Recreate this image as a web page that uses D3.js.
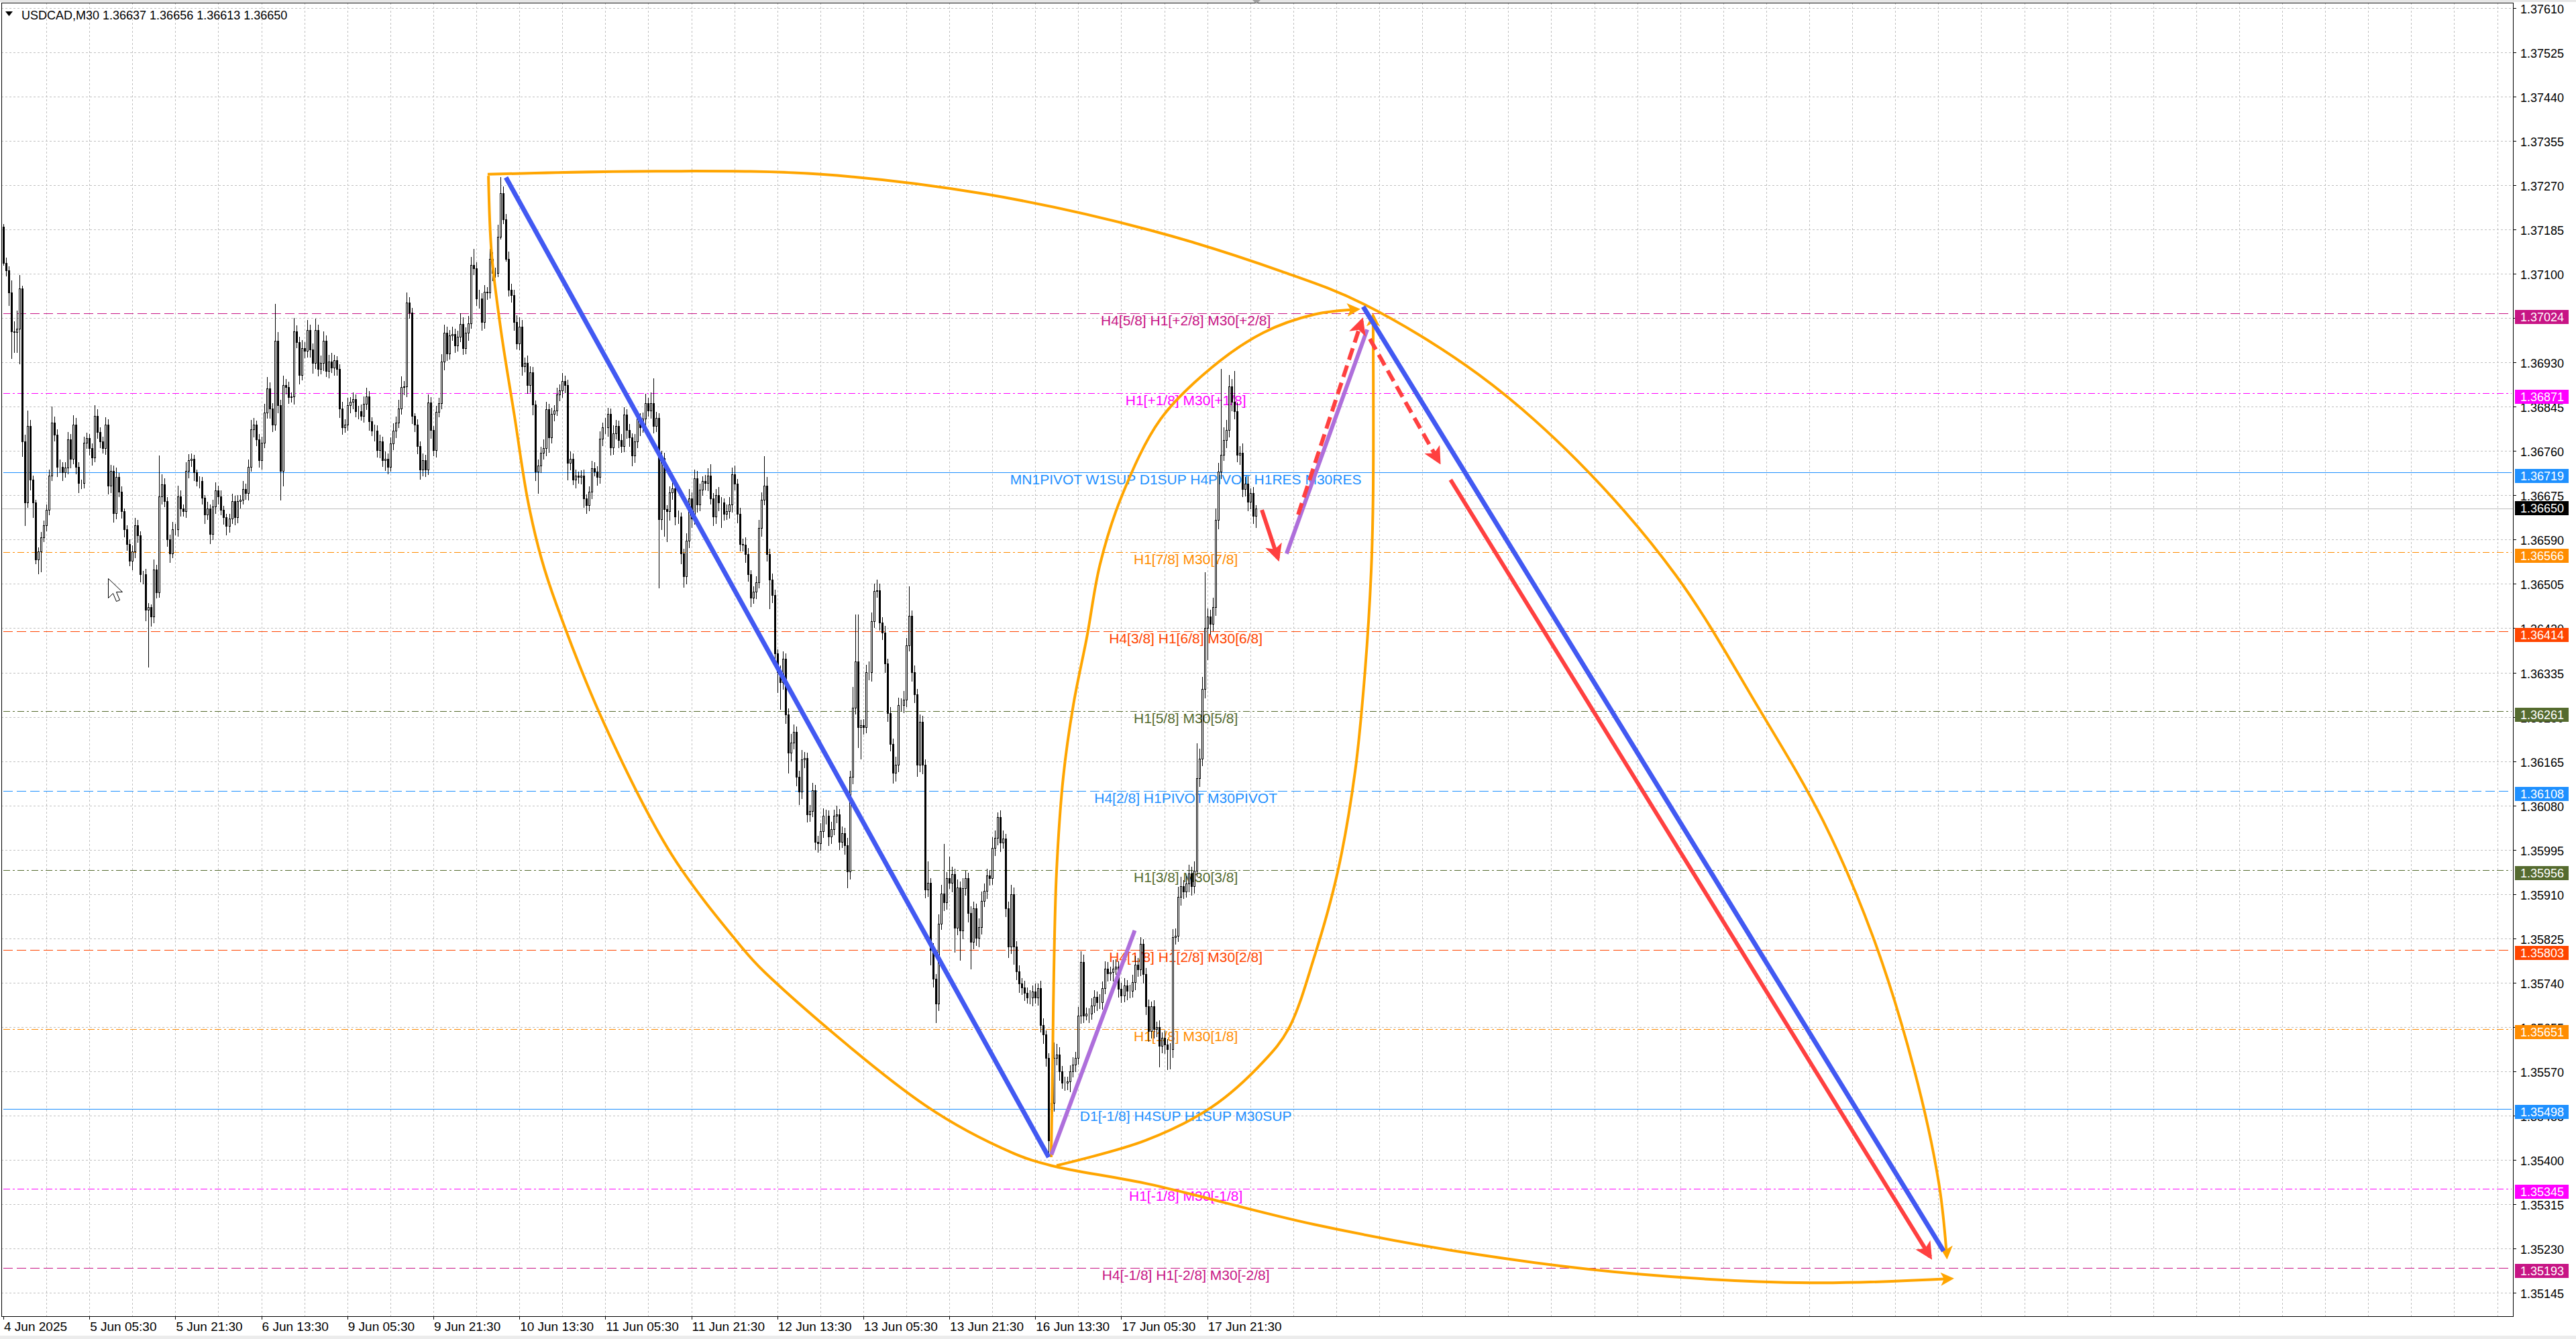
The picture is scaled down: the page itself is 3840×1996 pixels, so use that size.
<!DOCTYPE html>
<html>
<head>
<meta charset="utf-8">
<script src="https://cdnjs.cloudflare.com/ajax/libs/d3/7.8.5/d3.min.js"></script>
<style>
  body { margin: 0; background: #fff; }
  svg { display: block; font-family: "Liberation Sans", Arial, sans-serif; }
</style>
</head>
<body>
<svg id="chart"></svg>
<script>
// ---- data (prices in points above 1.35000) ----
const symbolTitle = "USDCAD,M30  1.36637 1.36656 1.36613 1.36650";
const firstOpen = 2190;
const closes = [
  2121,2107,2064,1989,1988,1995,2072,1779,1661,1808,
  1705,1661,1552,1567,1595,1618,1647,1713,1814,1791,
  1730,1730,1719,1728,1782,1745,1811,1730,1699,1699,
  1776,1785,1765,1748,1828,1796,1779,1765,1811,1693,
  1722,1641,1710,1682,1644,1610,1581,1549,1567,1618,
  1598,1524,1524,1455,1460,1443,1532,1489,1673,1696,
  1664,1590,1564,1610,1610,1673,1650,1644,1722,1742,
  1745,1719,1702,1702,1670,1638,1650,1601,1653,1684,
  1673,1647,1633,1616,1630,1664,1633,1664,1667,1687,
  1679,1730,1802,1811,1782,1742,1776,1834,1880,1842,
  1811,1972,1848,1722,1886,1883,1863,1865,1989,1969,
  1906,1957,1952,1992,1955,1929,1992,1917,1929,1972,
  1914,1932,1920,1934,1917,1842,1805,1811,1848,1854,
  1860,1837,1837,1828,1851,1865,1817,1799,1799,1762,
  1779,1742,1745,1730,1774,1799,1814,1842,1883,1884,
  2045,2026,1827,1811,1770,1724,1743,1724,1853,1800,
  1762,1835,1852,1931,1987,1947,1982,1985,1963,1979,
  2004,1958,1987,2005,2117,2110,2053,2053,2007,2065,
  2064,2128,2102,2102,2171,2255,2205,2129,2069,2059,
  2007,1967,1999,1923,1929,1886,1911,1849,1721,1732,
  1756,1766,1840,1786,1831,1838,1868,1876,1894,1887,
  1737,1745,1705,1713,1710,1713,1669,1656,1682,1727,
  1721,1710,1784,1805,1805,1831,1767,1794,1808,1781,
  1770,1830,1800,1786,1751,1778,1822,1805,1822,1852,
  1838,1852,1808,1823,1629,1746,1648,1645,1680,1688,
  1634,1634,1563,1520,1588,1669,1631,1708,1658,1686,
  1702,1699,1713,1669,1634,1675,1661,1661,1640,1645,
  1658,1716,1697,1639,1582,1580,1562,1523,1479,1490,
  1508,1612,1666,1694,1562,1513,1484,1372,1336,1316,
  1362,1254,1181,1201,1221,1135,1106,1168,1171,1063,
  1069,1109,1010,1007,1030,1060,1060,1020,1035,1060,
  1063,1010,1027,1004,954,1135,1267,1356,1230,1234,
  1230,1336,1336,1434,1491,1493,1431,1411,1352,1257,
  1198,1142,1158,1273,1273,1283,1387,1444,1336,1293,
  1158,1240,1158,918,931,803,747,700,853,911,
  894,940,932,948,845,922,840,921,941,874,
  818,882,826,847,897,916,946,940,999,1018,
  1058,1009,1016,882,809,910,809,761,739,731,
  721,712,712,723,712,729,659,640,595,437,
  509,595,602,570,548,548,550,570,583,595,
  677,780,677,680,681,696,713,702,702,730,
  767,758,760,767,771,728,715,735,724,724,
  741,775,765,814,756,694,647,694,651,655,
  619,634,621,612,612,827,830,904,925,915,
  930,950,925,955,1132,1169,1303,1420,1442,1428,
  1460,1628,1721,1753,1781,1800,1884,1854,1837,1753,
  1756,1687,1698,1663,1679,1636,1650
];
const wickHi = [
  5,10,8,23,20,35,26,5,12,30, 12,8,6,8,10,8,10,12,32,12,
  10,14,8,10,15,10,18,12,8,6, 12,10,8,10,20,12,10,8,14,10,
  12,10,18,8,10,6,8,10,12,14, 10,8,6,10,8,6,20,10,78,20,
  12,8,10,14,10,20,12,8,16,12, 10,8,6,10,8,6,12,8,14,16,
  10,12,8,6,10,14,10,12,8,16, 10,14,18,12,8,10,12,16,22,12,
  10,70,16,10,18,12,10,8,26,12, 10,16,12,20,10,12,22,10,14,18,
  10,12,16,10,8,10,12,10,14,10, 12,8,10,12,14,16,10,8,12,10,
  12,8,14,10,12,14,12,16,20,10, 19,10,8,6,10,8,12,10,15,10,
  8,12,10,15,15,12,10,14,10,12, 20,12,10,14,15,31,12,16,10,14,
  10,20,14,10,23,30,12,10,14,12, 10,14,18,12,10,14,12,10,8,12,
  12,16,14,10,12,10,14,12,16,10, 10,14,10,12,8,10,12,8,10,14,
  12,10,14,10,18,12,10,16,12,10, 12,14,10,12,8,14,16,10,12,18,
  10,20,48,12,10,14,10,8,12,16, 10,12,8,10,14,18,12,16,14,12,
  10,12,14,22,10,12,16,10,8,12, 14,12,16,10,12,10,14,12,8,10,
  12,16,14,56,16,10,12,10,8,12, 14,10,12,16,14,10,12,18,12,10,
  12,14,10,12,16,14,12,10,14,12, 16,10,12,10,14,12,40,90,90,10,
  12,14,20,16,14,20,12,10,14,10, 12,10,16,14,12,16,14,56,10,12,
  10,14,12,10,42,10,12,10,18,16, 95,12,42,14,10,16,12,20,14,10,
  12,14,10,16,18,14,12,10,20,14, 9,12,16,10,14,18,12,10,12,10,
  12,10,14,12,16,10,14,12,8,10, 40,30,20,14,10,12,10,12,14,12,
  16,20,14,12,10,14,12,10,16,12, 14,12,10,16,14,10,12,14,10,12,
  14,16,12,13,10,12,14,10,12,10, 12,10,14,10,12,16,14,20,18,12,
  14,16,12,18,67,20,24,107,16,14, 18,22,16,165,24,20,22,14,60,16,
  14,18,12,14,10,12,6
];
const wickLo = [
  5,12,26,52,39,40,69,30,45,10, 20,29,9,28,40,10,12,10,10,12,
  20,12,16,10,12,18,10,14,20,12, 10,12,14,16,10,12,14,10,12,16,
  14,18,12,10,14,16,12,10,18,12, 14,16,20,22,110,20,14,12,10,16,
  12,14,18,10,12,14,16,10,12,14, 12,16,10,14,12,18,10,20,12,14,
  16,10,14,18,12,10,16,12,14,10, 12,14,10,16,12,14,18,10,12,20,
  14,12,16,57,30,14,12,10,16,12, 18,10,14,12,16,20,12,14,10,16,
  12,14,10,16,12,18,14,10,12,16, 14,12,16,10,14,12,18,10,20,14,
  16,12,20,14,10,12,14,10,12,16, 20,12,15,14,16,19,12,14,10,16,
  12,14,10,12,16,14,12,10,14,12, 10,14,12,16,10,12,14,20,16,12,
  14,12,16,10,8,5,10,5,12,14, 16,12,14,18,12,16,14,20,19,43,
  14,12,16,30,12,14,10,12,14,16, 33,14,10,16,12,14,18,16,12,14,
  10,16,12,14,12,18,16,14,12,16, 14,12,16,18,20,14,12,16,10,14,
  12,16,14,12,133,20,52,60,18,14, 16,14,20,22,16,14,18,12,16,14,
  12,14,16,12,18,14,16,49,14,12, 14,16,12,18,14,12,16,14,18,12,
  14,12,16,10,14,56,16,18,40,53, 14,18,40,16,14,18,25,14,16,16,
  14,12,16,18,14,12,16,18,14,12, 14,16,12,18,33,16,14,12,40,62,
  14,12,16,18,14,12,16,14,18,16, 14,20,16,14,12,16,14,12,18,16,
  23,14,18,16,14,30,16,37,14,12, 16,14,12,18,47,14,58,16,14,18,
  52,14,16,18,14,12,16,14,12,16, 14,18,12,16,22,14,34,16,18,14,
  16,12,14,18,12,16,14,18,16,32, 30,16,14,18,12,16,14,20,12,14,
  12,16,14,10,18,12,14,16,12,14, 12,16,14,18,12,16,14,12,18,14,
  12,16,14,12,18,16,20,14,18,16, 41,14,18,40,39,16,14,12,16,14,
  12,16,18,14,12,16,14,18,61,20, 14,16,18,14,12,16,14,18,16,14,
  20,16,14,18,14,16,23
];
const bidPrice = 1.36650;

const priceTicks = ["1.37610","1.37525","1.37440","1.37355","1.37270","1.37185","1.37100","1.37015",
  "1.36930","1.36845","1.36760","1.36675","1.36590","1.36505","1.36420","1.36335","1.36250",
  "1.36165","1.36080","1.35995","1.35910","1.35825","1.35740","1.35655","1.35570","1.35485",
  "1.35400","1.35315","1.35230","1.35145"];

const timeLabels = ["4 Jun 2025","5 Jun 05:30","5 Jun 21:30","6 Jun 13:30","9 Jun 05:30","9 Jun 21:30",
  "10 Jun 13:30","11 Jun 05:30","11 Jun 21:30","12 Jun 13:30","13 Jun 05:30","13 Jun 21:30",
  "16 Jun 13:30","17 Jun 05:30","17 Jun 21:30"];

const levelPrices = [1.37024,1.36871,1.36719,1.36566,1.36414,1.36261,1.36108,1.35956,1.35803,1.35651,1.35498,1.35345,1.35193];
const levelNames = [
  "H4[5/8] H1[+2/8] M30[+2/8]",
  "H1[+1/8] M30[+1/8]",
  "MN1PIVOT W1SUP D1SUP H4PIVOT H1RES M30RES",
  "H1[7/8] M30[7/8]",
  "H4[3/8] H1[6/8] M30[6/8]",
  "H1[5/8] M30[5/8]",
  "H4[2/8] H1PIVOT M30PIVOT",
  "H1[3/8] M30[3/8]",
  "H4[1/8] H1[2/8] M30[2/8]",
  "H1[1/8] M30[1/8]",
  "D1[-1/8] H4SUP H1SUP M30SUP",
  "H1[-1/8] M30[-1/8]",
  "H4[-1/8] H1[-2/8] M30[-2/8]"
];
const levelKinds = ["outer","extra","pivot","eighth","quarter","mid","pivotMid","mid","quarter","eighth","pivot","extra","outer"];

// hand drawn objects: [bar index, price]
const blueLines = [[[187,1.37285],[389,1.35405]], [[506,1.37037],[722,1.35225]]];
const purpleLines = [[[390,1.35410],[421,1.35840]], [[477.5,1.36563],[507.5,1.36993]]];
const redArrow = [[538.5,1.36705],[717,1.35214]];
const redShortArrow = [[468.3,1.36647],[474.3,1.36554]];
const redDashUp = [[481.8,1.36638],[505.5,1.37010]];
const redDashDown = [[508.5,1.36975],[534.2,1.36740]];
const arcOuterTop = [[180.2,1.37291],[243.4,1.37297],[304.3,1.37291],[365.5,1.37253],[426.6,1.37184],
  [475.5,1.37105],[506.2,1.37042],[548.9,1.36907],[585.6,1.36742],[622.3,1.36522],[652.8,1.36270],
  [677.2,1.36050],[695.7,1.35828],[710.9,1.35576],[720.2,1.35356],[723.2,1.35214]];
const arcOuterBottom = [[180.5,1.37288],[181.7,1.37138],[185.2,1.36990],[190.2,1.36827],[195.2,1.36664],
  [200.2,1.36554],[205.9,1.36464],[223.4,1.36239],[248.4,1.35988],[273.3,1.35817],[283.3,1.35760],
  [343.2,1.35504],[375.7,1.35413],[389.9,1.35389],[426.6,1.35353],[487.8,1.35276],[549,1.35218],
  [610.1,1.35180],[672.7,1.35164],[724.9,1.35172]];
const arcInnerLeft = [[389.9,1.35405],[390.4,1.35566],[390.9,1.35759],[391.9,1.35952],[394.4,1.36134],
  [398.2,1.36274],[403.2,1.36403],[408.1,1.36543],[416.2,1.36674],[430.6,1.36821],[449.6,1.36920],
  [468.8,1.36987],[487.8,1.37022],[504,1.37032]];
const arcInnerRight = [[391.9,1.35389],[424.9,1.35437],[449.6,1.35501],[468.8,1.35588],[478.3,1.35652],
  [487.8,1.35789],[496.5,1.35952],[503,1.36145],[506.7,1.36338],[509,1.36531],[509.7,1.36674],[509.7,1.37020]];

// ---- layout ----
const width = 3840, height = 1996;
const plotL = 2, plotT = 4, plotR = 3746, plotB = 1962;
const labelBar = 440;
const font = "'Liberation Sans', Arial, sans-serif";

const kindStyle = {
  outer:    {color: "#C71585", dash: "14,6",       w: 1},
  extra:    {color: "#FF00FF", dash: "10,4,3,4",   w: 1},
  pivot:    {color: "#1E90FF", dash: null,         w: 1.5},
  pivotMid: {color: "#1E90FF", dash: "14,6",       w: 1},
  eighth:   {color: "#FF8C00", dash: "10,4,3,4",   w: 1},
  quarter:  {color: "#FF4500", dash: "14,6",       w: 1},
  mid:      {color: "#556B2F", dash: "10,4,3,4",   w: 1}
};

const svg = d3.select("#chart").attr("width", width).attr("height", height);

const x = d3.scaleLinear().domain([0, 934]).range([5, 3746.6]);
const y = d3.scaleLinear().domain([1.35145, 1.37610]).range([1927, 12]);
const P = v => 1.35 + v / 100000;

// background bands
svg.append("rect").attr("width", width).attr("height", height).attr("fill", "#fff");
svg.append("rect").attr("x", 0).attr("y", 0).attr("width", width).attr("height", 3).attr("fill", "#e6e6e6");
svg.append("rect").attr("x", 0).attr("y", 1991).attr("width", width).attr("height", 5).attr("fill", "#ececec");

const defs = svg.append("defs");
function arrowMarker(id, color, size) {
  defs.append("marker")
    .attr("id", id)
    .attr("viewBox", "0 0 10 10")
    .attr("refX", 8).attr("refY", 5)
    .attr("markerWidth", size).attr("markerHeight", size)
    .attr("markerUnits", "userSpaceOnUse")
    .attr("orient", "auto")
    .append("path").attr("d", "M0,0L10,5L0,10L2.5,5z").attr("fill", color);
}
arrowMarker("arRed", "#FF4040", 26);
arrowMarker("arOrange", "#FFA500", 20);

// grid
const grid = svg.append("g").attr("shape-rendering", "crispEdges");
grid.selectAll("line.h").data(priceTicks).enter().append("line")
  .attr("x1", plotL).attr("x2", plotR)
  .attr("y1", d => Math.round(y(+d)) + 0.5).attr("y2", d => Math.round(y(+d)) + 0.5)
  .attr("stroke", "#c0c0c0").attr("stroke-dasharray", "3,3");
grid.selectAll("line.v").data(d3.range(16, 934, 16)).enter().append("line")
  .attr("x1", d => Math.round(x(d)) + 0.5).attr("x2", d => Math.round(x(d)) + 0.5)
  .attr("y1", plotT).attr("y2", plotB)
  .attr("stroke", "#c0c0c0").attr("stroke-dasharray", "3,3");

// level lines
const levels = levelPrices.map((p, i) => ({p, name: levelNames[i], st: kindStyle[levelKinds[i]]}));
const lv = svg.append("g").attr("shape-rendering", "crispEdges");
lv.selectAll("line").data(levels).enter().append("line")
  .attr("x1", 5).attr("x2", plotR - 2)
  .attr("y1", d => Math.round(y(d.p)) + 0.5).attr("y2", d => Math.round(y(d.p)) + 0.5)
  .attr("stroke", d => d.st.color).attr("stroke-width", d => d.st.w)
  .attr("stroke-dasharray", d => d.st.dash);
svg.append("line").attr("shape-rendering", "crispEdges")
  .attr("x1", plotL).attr("x2", plotR)
  .attr("y1", Math.round(y(bidPrice)) + 0.5).attr("y2", Math.round(y(bidPrice)) + 0.5)
  .attr("stroke", "#c0c0c0");

// level labels
svg.append("g").selectAll("text").data(levels).enter().append("text")
  .attr("x", x(labelBar)).attr("y", d => y(d.p) + 18)
  .attr("text-anchor", "middle")
  .attr("font-size", 21).attr("font-family", font)
  .attr("fill", d => d.st.color)
  .text(d => d.name);

// candles
const bars = closes.map((c, i) => {
  const o = i ? closes[i - 1] : firstOpen;
  return {i, o: P(o), c: P(c), h: P(Math.max(o, c) + wickHi[i]), l: P(Math.min(o, c) - wickLo[i])};
});
const cg = svg.append("g").attr("shape-rendering", "crispEdges");
cg.selectAll("line").data(bars).enter().append("line")
  .attr("x1", d => Math.round(x(d.i)) + 0.5).attr("x2", d => Math.round(x(d.i)) + 0.5)
  .attr("y1", d => Math.round(y(d.h))).attr("y2", d => Math.round(y(d.l)))
  .attr("stroke", "#000");
cg.selectAll("rect").data(bars).enter().append("rect")
  .attr("x", d => Math.round(x(d.i)) - 0.5)
  .attr("y", d => Math.round(y(Math.max(d.o, d.c))) + 0.5)
  .attr("width", 2)
  .attr("height", d => Math.max(0, Math.round(y(Math.min(d.o, d.c))) - Math.round(y(Math.max(d.o, d.c)))))
  .attr("fill", d => d.c >= d.o ? "#fff" : "#000")
  .attr("stroke", "#000");

// drawings
const line = d3.line().x(d => x(d[0])).y(d => y(d[1]));
const curve = d3.line().x(d => x(d[0])).y(d => y(d[1])).curve(d3.curveCatmullRom.alpha(0.5));
const dg = svg.append("g").attr("fill", "none").attr("stroke-linecap", "butt");

[arcOuterTop, arcOuterBottom, arcInnerLeft, arcInnerRight].forEach(a => {
  dg.append("path").attr("d", curve(a)).attr("stroke", "#FFA500").attr("stroke-width", 4)
    .attr("marker-end", "url(#arOrange)");
});
blueLines.forEach(l => dg.append("path").attr("d", line(l)).attr("stroke", "#4259F2").attr("stroke-width", 7));
purpleLines.forEach(l => dg.append("path").attr("d", line(l)).attr("stroke", "#AE6FDB").attr("stroke-width", 6));
dg.append("path").attr("d", line(redArrow)).attr("stroke", "#FF4040").attr("stroke-width", 6).attr("marker-end", "url(#arRed)");
dg.append("path").attr("d", line(redShortArrow)).attr("stroke", "#FF4040").attr("stroke-width", 6).attr("marker-end", "url(#arRed)");
[redDashUp, redDashDown].forEach(l => dg.append("path").attr("d", line(l))
  .attr("stroke", "#FF4040").attr("stroke-width", 6).attr("stroke-dasharray", "18,9")
  .attr("marker-end", "url(#arRed)"));

// mouse pointer left on the chart
svg.append("path")
  .attr("d", "M161.5,862.5L161.5,891.5L168.5,884.5L173.5,896.5L178.5,894.5L173.5,882.5L182.5,882.5Z")
  .attr("fill", "#fff").attr("stroke", "#000");

// frame and axes
svg.append("rect").attr("shape-rendering", "crispEdges")
  .attr("x", plotL + 0.5).attr("y", plotT + 0.5)
  .attr("width", plotR - plotL).attr("height", plotB - plotT)
  .attr("fill", "none").attr("stroke", "#000");

const ax = svg.append("g").attr("font-family", font).attr("fill", "#000");
ax.selectAll("line.pt").data(priceTicks).enter().append("line").attr("shape-rendering", "crispEdges")
  .attr("x1", plotR + 1).attr("x2", plotR + 5)
  .attr("y1", d => Math.round(y(+d)) + 0.5).attr("y2", d => Math.round(y(+d)) + 0.5)
  .attr("stroke", "#000");
ax.selectAll("text.pt").data(priceTicks).enter().append("text")
  .attr("x", 3757).attr("y", d => y(+d) + 8)
  .attr("font-size", 18).text(d => d);

const tIdx = timeLabels.map((t, k) => ({t, i: k * 32}));
ax.selectAll("line.tt").data(tIdx).enter().append("line").attr("shape-rendering", "crispEdges")
  .attr("x1", d => Math.round(x(d.i)) + 0.5).attr("x2", d => Math.round(x(d.i)) + 0.5)
  .attr("y1", plotB).attr("y2", plotB + 5).attr("stroke", "#000");
ax.selectAll("text.tt").data(tIdx).enter().append("text")
  .attr("x", d => x(d.i) + 1).attr("y", 1984)
  .attr("font-size", 19).text(d => d.t);

// price boxes on the axis
const boxes = levels.map(d => ({p: d.p, color: d.st.color, dy: 5}))
  .concat([{p: bidPrice, color: "#000", dy: 0}]);
const bx = svg.append("g").attr("font-family", font);
bx.selectAll("rect").data(boxes).enter().append("rect").attr("shape-rendering", "crispEdges")
  .attr("x", plotR + 3).attr("y", d => Math.round(y(d.p) + d.dy - 10.5))
  .attr("width", 80).attr("height", 21).attr("fill", d => d.color);
bx.selectAll("text").data(boxes).enter().append("text")
  .attr("x", 3757).attr("y", d => y(d.p) + d.dy + 6.5)
  .attr("font-size", 18).attr("fill", "#fff")
  .text(d => d.p.toFixed(5));

// title and chart shift marker
svg.append("path").attr("d", "M8,17L19,17L13.5,24z").attr("fill", "#000");
svg.append("path").attr("d", "M1867,0L1879,0L1873,6z").attr("fill", "#a0a0a0");
svg.append("text").attr("x", 32).attr("y", 29).attr("font-family", font)
  .attr("font-size", 18).attr("fill", "#000").text(symbolTitle);
</script>
</body>
</html>
